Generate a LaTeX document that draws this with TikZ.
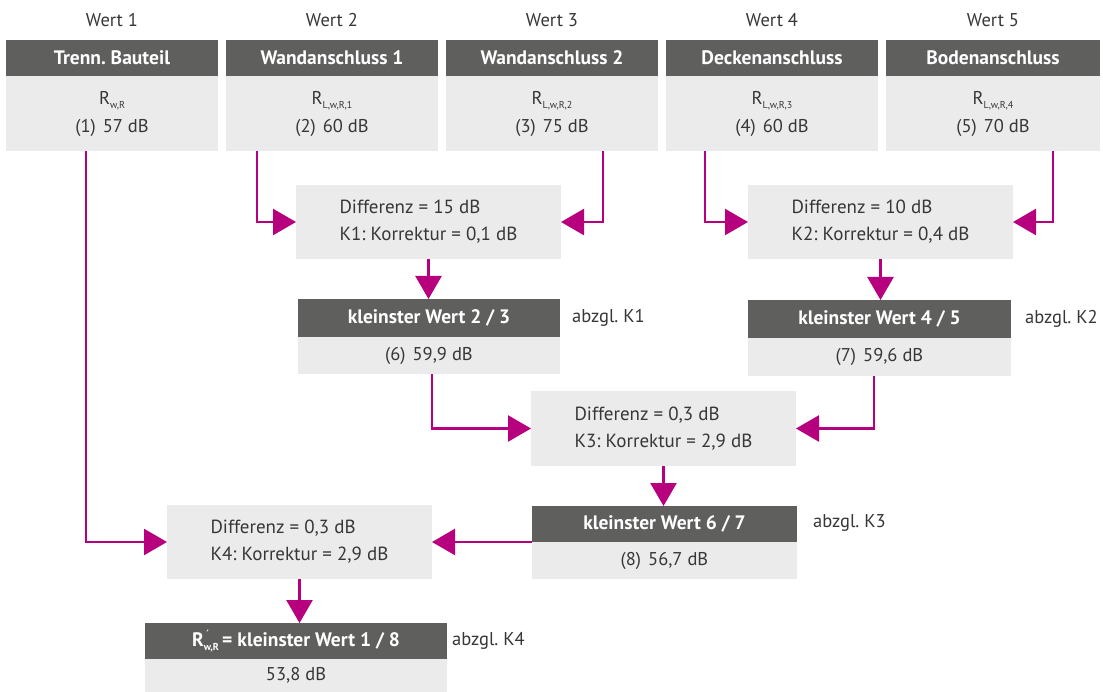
\documentclass[tikz,border=0pt]{standalone}
\usepackage{fontspec}
\setmainfont{PT Sans}
\usetikzlibrary{arrows.meta}
\definecolor{hdr}{RGB}{95,95,94}
\definecolor{bdy}{RGB}{235,235,235}
\definecolor{mag}{RGB}{182,0,126}
\definecolor{txt}{RGB}{55,55,55}
\newcommand\subx[1]{\raisebox{-4.5pt}{\fontsize{10}{10}\selectfont #1}}
\frenchspacing
\begin{document}
\begin{tikzpicture}[x=1pt,y=-1pt,
  hdrbox/.style={fill=hdr, text=white, font=\fontsize{19.5}{21}\selectfont\bfseries, anchor=north west, inner sep=0pt, outer sep=0pt},
  bodybox/.style={fill=bdy, text=txt, font=\fontsize{18.5}{28}\selectfont, align=center, anchor=north west, inner sep=0pt, outer sep=0pt},
  diffbox/.style={fill=bdy, text=txt, font=\fontsize{19}{27}\selectfont, align=left, anchor=north west, inner sep=0pt, outer sep=0pt},
  lbl/.style={text=txt, font=\fontsize{18.5}{20}\selectfont, inner sep=0pt},
  arr/.style={draw=mag, line width=2.5pt, -{Triangle[length=23pt,width=26pt]}}]
\fill[white] (0,0) rectangle (1103,692);
\useasboundingbox (0,0) rectangle (1103,692);
% top row
\node[lbl] (w1) at (112,20) {Wert 1};
\node[lbl] (w2) at (332,20) {Wert 2};
\node[lbl] (w3) at (552,20) {Wert 3};
\node[lbl] (w4) at (772,20) {Wert 4};
\node[lbl] (w5) at (993,20) {Wert 5};
\node[hdrbox, minimum width=212pt, minimum height=36pt] (h1) at (6,40) {Trenn. Bauteil};
\node[hdrbox, minimum width=212pt, minimum height=36pt] (h2) at (226,40) {Wandanschluss 1};
\node[hdrbox, minimum width=212pt, minimum height=36pt] (h3) at (446,40) {Wandanschluss 2};
\node[hdrbox, minimum width=212pt, minimum height=36pt] (h4) at (666,40) {Deckenanschluss};
\node[hdrbox, minimum width=214pt, minimum height=36pt] (h5) at (886,40) {Bodenanschluss};
\node[bodybox, minimum width=212pt, minimum height=75pt] (b1) at (6,76) {R\subx{w,R}\\(1)\hspace{7pt}57 dB};
\node[bodybox, minimum width=212pt, minimum height=75pt] (b2) at (226,76) {R\subx{L,w,R,1}\\(2)\hspace{7pt}60 dB};
\node[bodybox, minimum width=212pt, minimum height=75pt] (b3) at (446,76) {R\subx{L,w,R,2}\\(3)\hspace{7pt}75 dB};
\node[bodybox, minimum width=212pt, minimum height=75pt] (b4) at (666,76) {R\subx{L,w,R,3}\\(4)\hspace{7pt}60 dB};
\node[bodybox, minimum width=214pt, minimum height=75pt] (b5) at (886,76) {R\subx{L,w,R,4}\\(5)\hspace{7pt}70 dB};
% difference boxes
\node[diffbox, minimum width=265pt, minimum height=74pt] (d1) at (296,185) {Differenz = 15 dB\\K1: Korrektur = 0,1 dB};
\node[diffbox, minimum width=265pt, minimum height=74pt] (d2) at (748,185) {Differenz = 10 dB\\K2: Korrektur = 0,4 dB};
\node[diffbox, minimum width=265pt, minimum height=75pt] (d3) at (531,391) {Differenz = 0,3 dB\\K3: Korrektur = 2,9 dB};
\node[diffbox, minimum width=265pt, minimum height=74pt] (d4) at (167,505) {Differenz = 0,3 dB\\K4: Korrektur = 2,9 dB};
% result boxes
\node[hdrbox, minimum width=262pt, minimum height=38pt] (r6h) at (298,299) {kleinster Wert 2 / 3};
\node[bodybox, minimum width=262pt, minimum height=37pt] (r6b) at (298,337) {(6)\hspace{7pt}59,9 dB};
\node[hdrbox, minimum width=263pt, minimum height=38pt] (r7h) at (748,300) {kleinster Wert 4 / 5};
\node[bodybox, minimum width=263pt, minimum height=38pt] (r7b) at (748,338) {(7)\hspace{7pt}59,6 dB};
\node[hdrbox, minimum width=265pt, minimum height=36pt] (r8h) at (532,506) {kleinster Wert 6 / 7};
\node[bodybox, minimum width=265pt, minimum height=37pt] (r8b) at (532,542) {(8)\hspace{7pt}56,7 dB};
\node[hdrbox, minimum width=302pt, minimum height=36pt] (fh) at (145,623) {R\rlap{\raisebox{7pt}{\fontsize{13}{13}\selectfont\mdseries\,´}}\subx{w,R}\,= kleinster Wert 1 / 8};
\node[bodybox, minimum width=302pt, minimum height=33pt] (fb) at (145,659) {53,8 dB};
% side labels
\node[lbl, anchor=west] (k1) at (572,318) {abzgl. K1};
\node[lbl, anchor=west] (k2) at (1025,319) {abzgl. K2};
\node[lbl, anchor=west] (k3) at (813,523) {abzgl. K3};
\node[lbl, anchor=west] (k4) at (452,641) {abzgl. K4};
% connectors
\draw[arr] ([xshift=80pt]b1.south west) |- (d4.west);
\draw[arr] ([xshift=31pt]b2.south west) |- (d1.west);
\draw[arr] ([xshift=157pt]b3.south west) |- (d1.east);
\draw[arr] ([xshift=39pt]b4.south west) |- (d2.west);
\draw[arr] ([xshift=167pt]b5.south west) |- (d2.east);
\draw[arr] (d1.south) -- (d1.south |- r6h.north);
\draw[arr] (d2.south) -- (d2.south |- r7h.north);
\draw[arr] ([xshift=134pt]r6b.south west) |- (d3.west);
\draw[arr] ([xshift=126pt]r7b.south west) |- (d3.east);
\draw[arr] (d3.south) -- (d3.south |- r8h.north);
\draw[arr] (r8h.south west |- d4.east) -- (d4.east);
\draw[arr] (d4.south) -- (d4.south |- fh.north);
\end{tikzpicture}
\end{document}
